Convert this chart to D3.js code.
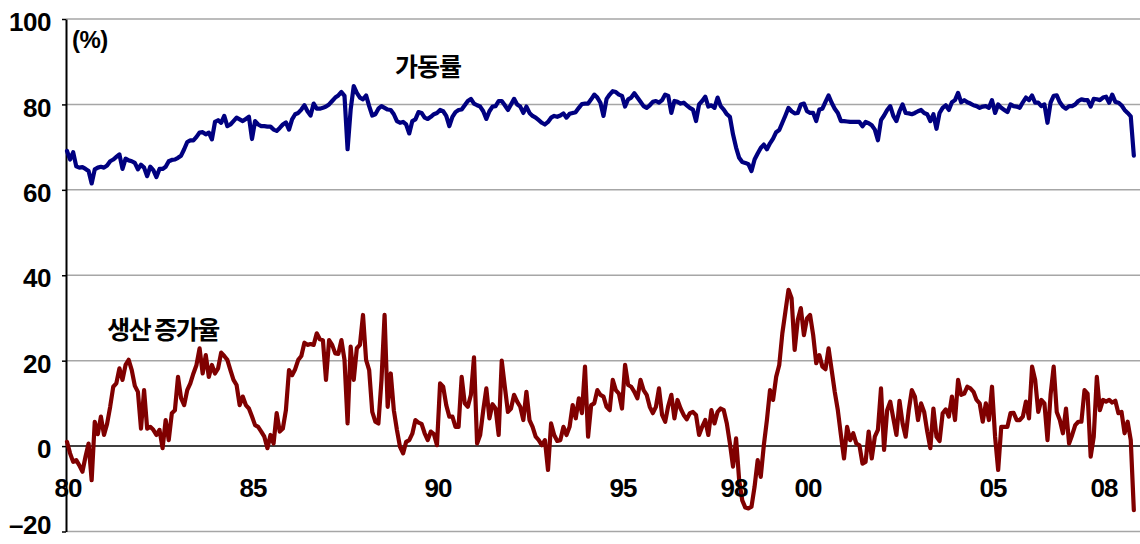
<!DOCTYPE html>
<html><head><meta charset="utf-8">
<script src="https://cdn.jsdelivr.net/npm/d3@7"></script>
<style>body{margin:0;background:#fff} svg{display:block}</style>
</head><body><svg id="c" width="1140" height="544"></svg>
<script>
const startYear = 1980; // monthly data, Jan 1980 - Nov 2008
const utilization = [
 69.1,67.1,68.8,65.5,65.2,65.3,64.9,64.4,61.5,64.8,65.2,65.4,
 65.2,65.7,66.7,67.1,67.7,68.3,64.9,67.3,66.9,66.7,66.3,64.8,
 65.9,65.2,63.2,65.4,64.6,63.0,64.9,64.9,65.4,66.7,67.0,67.1,
 67.5,68.0,69.5,71.2,71.6,71.6,72.4,73.4,73.5,73.0,73.4,71.8,
 75.9,76.3,75.7,77.3,74.9,75.3,76.1,76.9,76.5,76.1,76.6,77.1,
 71.9,76.1,75.3,74.9,74.9,74.8,74.8,74.1,73.8,74.5,75.3,75.8,
 74.1,76.5,77.7,78.0,78.8,79.8,78.4,77.4,80.2,79.0,79.0,79.2,
 79.5,80.0,80.8,81.6,82.1,82.9,82.0,69.5,78.8,84.3,82.7,81.6,
 81.2,82.1,79.6,77.4,77.7,79.0,79.6,79.2,78.8,78.7,77.7,76.1,
 75.7,75.9,75.3,73.2,76.1,76.5,78.2,78.0,76.9,76.6,77.1,77.7,
 78.0,78.7,78.4,77.3,74.9,77.1,78.2,78.7,78.8,79.8,80.8,81.3,
 80.2,79.8,79.5,78.4,76.6,78.4,79.5,79.6,80.8,80.8,79.8,78.7,
 80.0,81.3,80.0,79.5,78.0,79.5,78.0,77.3,76.9,76.3,75.7,75.3,
 75.9,76.9,77.3,77.1,77.4,77.9,76.9,77.8,78.0,78.2,79.2,80.1,
 80.2,80.2,81.2,82.3,81.6,80.4,77.3,81.3,82.3,83.1,82.9,82.3,
 82.0,79.5,81.2,81.6,82.6,81.6,80.6,79.6,79.2,79.8,80.6,80.8,
 80.4,81.0,82.3,82.0,78.0,80.8,80.6,80.2,80.4,79.8,79.2,78.8,
 76.1,80.0,80.8,81.8,79.5,79.8,79.2,81.6,79.6,78.8,77.7,77.1,
 73.0,69.9,67.5,66.5,66.3,66.0,64.4,67.1,68.5,69.8,70.6,69.5,
 70.9,72.0,73.5,74.0,75.7,77.4,79.2,78.4,77.9,78.0,80.0,80.2,
 78.4,78.0,78.0,76.1,78.8,79.0,80.6,82.1,80.4,79.0,78.0,76.1,
 76.1,76.0,75.9,75.9,75.9,75.9,74.9,75.9,75.6,75.1,74.1,71.6,
 76.3,77.4,78.7,79.6,77.3,76.1,78.4,80.0,78.0,77.9,77.7,78.0,
 78.4,78.7,78.0,77.7,76.1,77.7,74.3,78.0,79.2,79.8,78.7,80.5,
 81.0,82.7,80.5,81.0,80.5,80.2,79.8,79.6,79.2,79.5,79.6,79.2,
 81.0,78.0,80.0,79.2,78.7,78.2,80.0,79.6,79.5,79.2,80.5,81.6,
 81.0,82.1,80.4,80.4,79.6,80.0,75.7,80.4,82.0,82.1,80.5,79.5,
 79.0,79.6,79.6,80.0,80.8,81.2,81.0,81.0,79.5,81.3,81.2,81.0,
 81.6,81.8,80.4,82.3,80.6,80.4,79.8,78.7,78.0,77.2,68.0
];
const growth = [
 1.0,-1.7,-3.7,-3.3,-4.5,-6.0,-2.5,0.6,-8.0,5.7,2.8,6.9,
 2.6,5.2,9.2,13.9,14.7,18.2,15.5,19.0,20.2,17.8,14.1,12.7,
 4.1,13.1,4.1,4.5,3.8,2.6,3.8,-0.5,6.1,1.4,7.7,8.4,
 16.2,11.2,9.6,13.1,14.7,17.0,19.0,22.9,17.0,21.3,16.2,19.0,
 17.0,18.2,21.9,21.1,20.2,17.8,15.5,14.3,9.6,11.6,9.6,8.8,
 6.9,4.9,4.5,3.4,2.2,-0.5,2.6,0.6,7.7,3.4,4.1,8.4,
 17.8,16.6,18.0,20.2,21.1,24.2,23.7,23.9,23.7,26.4,25.0,24.8,
 15.5,24.8,23.7,21.7,21.6,24.8,20.2,5.3,23.3,15.5,22.9,23.7,
 30.7,20.2,17.8,8.0,5.7,5.3,15.5,30.7,9.2,17.0,8.4,3.8,
 -0.2,-1.7,1.0,1.4,2.9,6.1,5.5,5.2,3.0,1.4,3.4,2.8,
 0.2,14.7,13.9,9.6,6.9,6.9,4.5,4.5,16.2,10.0,9.2,12.0,
 20.8,0.6,2.6,8.4,13.5,6.5,9.8,8.8,2.6,20.0,13.9,8.0,
 8.8,12.0,10.4,9.2,6.1,12.7,6.1,4.5,2.2,1.4,0.2,1.4,
 -5.6,5.3,2.6,1.2,1.4,4.5,2.6,4.5,9.6,6.5,11.2,7.7,
 18.6,2.2,9.6,10.0,13.1,12.0,11.6,9.2,8.4,15.5,13.1,12.3,
 8.8,19.0,14.3,13.9,12.7,11.2,15.5,13.1,12.0,9.2,7.7,9.2,
 13.5,7.3,5.7,9.4,12.0,6.5,10.8,8.8,7.3,6.3,7.7,8.0,
 7.3,2.6,4.5,6.1,2.6,8.4,5.3,8.0,8.8,8.4,5.3,0.6,
 -4.8,1.8,-8.0,-12.7,-14.4,-14.6,-14.2,-9.5,-3.3,-7.2,0.2,6.1,
 13.1,10.8,16.2,19.0,26.4,31.5,36.6,34.6,22.5,29.5,32.3,26.0,
 29.9,30.7,26.0,19.4,21.3,18.6,18.0,22.9,17.8,12.7,8.4,2.6,
 -2.9,4.5,1.4,3.0,0.6,0.2,-4.1,-3.7,3.4,-2.9,2.2,3.8,
 13.5,-0.9,8.4,10.4,6.5,2.6,10.6,5.3,2.2,8.4,13.1,11.6,
 6.1,10.0,8.0,3.4,-0.5,8.8,2.2,1.2,7.7,8.6,6.9,11.6,
 6.1,15.5,12.0,12.3,13.9,13.5,12.7,10.8,10.0,5.7,10.0,6.1,
 13.9,2.2,-5.6,4.5,4.5,4.5,7.7,7.8,6.1,6.1,6.9,10.4,
 6.5,18.6,15.5,8.0,10.8,10.0,1.4,12.0,18.6,8.0,6.1,3.0,
 8.8,0.6,2.6,4.9,5.7,5.7,13.1,12.3,-2.5,2.2,16.2,8.4,
 10.8,10.4,10.8,10.2,10.6,7.7,8.0,3.0,5.7,1.4,-15.0
];
const yTicks = [-20, 0, 20, 40, 60, 80, 100];
const xTickYears = [1980, 1985, 1990, 1995, 1998, 2000, 2005, 2008];
const xTickLabels = ["80", "85", "90", "95", "98", "00", "05", "08"];
const seriesNames = ["가동률", "생산 증가율"];
const unitLabel = "(%)";

const svg = d3.select("#c");
const x = d3.scaleLinear().domain([1980, 2009]).range([67, 1140]);
const y = d3.scaleLinear().domain([-20, 100]).range([531.5, 19]);
const latin = "'Liberation Sans', Arial, sans-serif";
const kor = "'Noto Sans CJK KR', sans-serif";

// horizontal grid
svg.append("g").selectAll("line").data(yTicks).join("line")
  .attr("x1", 66).attr("x2", 1140)
  .attr("y1", d => y(d)).attr("y2", d => y(d))
  .attr("stroke", d => d === 0 ? "#000" : "#a6a6a6")
  .attr("stroke-width", 1.5);

// left axis
const yAxis = d3.axisLeft(y).tickValues(yTicks).tickSize(4).tickSizeOuter(0).tickPadding(11)
  .tickFormat(d => d < 0 ? "–" + Math.abs(d) : String(d));
const gy = svg.append("g").attr("transform", "translate(66,0)").call(yAxis);
gy.select(".domain").attr("stroke", "#000").attr("stroke-width", 2);
gy.selectAll(".tick line").attr("stroke", "#000").attr("stroke-width", 1.5);
gy.selectAll(".tick text").attr("font-family", latin).attr("font-weight", "bold")
  .attr("font-size", 26).attr("fill", "#000").attr("letter-spacing", -0.5)
  .attr("dy", d => d === -20 ? "0.08em" : "0.45em");

// series lines
const line = d3.line().x((d, i) => x(startYear + i / 12)).y(d => y(d));
svg.append("path").datum(utilization).attr("d", line).attr("fill", "none")
  .attr("stroke", "#000080").attr("stroke-width", 4.2).attr("stroke-linejoin", "round").attr("stroke-linecap", "round");
svg.append("path").datum(growth).attr("d", line).attr("fill", "none")
  .attr("stroke", "#800000").attr("stroke-width", 4.2).attr("stroke-linejoin", "round").attr("stroke-linecap", "round");

// x labels
svg.append("g").selectAll("text").data(xTickYears).join("text")
  .attr("x", d => x(d) + 1).attr("y", 497).attr("text-anchor", "middle")
  .attr("font-family", latin).attr("font-weight", "bold").attr("font-size", 26)
  .attr("letter-spacing", -1).attr("fill", "#000")
  .text((d, i) => xTickLabels[i]);

// annotations
svg.append("text").attr("x", 72).attr("y", 48).attr("font-family", latin).attr("font-weight", "bold")
  .attr("font-size", 24).attr("letter-spacing", -0.5).text(unitLabel);
svg.append("text").attr("x", 428).attr("y", 76).attr("text-anchor", "middle").attr("font-family", kor)
  .attr("font-weight", "bold").attr("font-size", 25).attr("letter-spacing", -1).text(seriesNames[0]);
svg.append("text").attr("x", 163).attr("y", 339).attr("text-anchor", "middle").attr("font-family", kor)
  .attr("font-weight", "bold").attr("font-size", 25).attr("letter-spacing", -1.5).text(seriesNames[1]);
</script></body></html>
